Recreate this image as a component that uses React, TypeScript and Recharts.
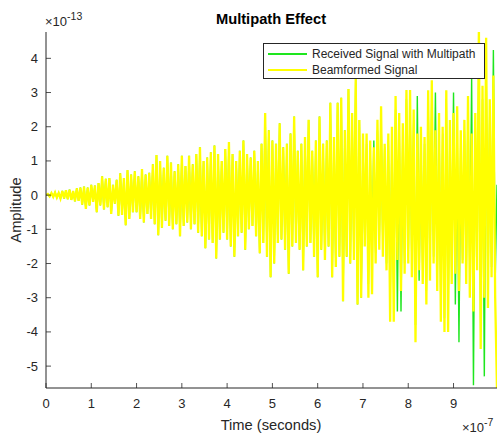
import React from 'react';
import { LineChart, Line, XAxis, YAxis, Legend } from 'recharts';

// time axis in units of 1e-7 s, amplitudes in units of 1e-13
const SAMPLE_STEP = 0.04;
const X_TICKS = [0, 1, 2, 3, 4, 5, 6, 7, 8, 9];
const Y_TICKS = [-5, -4, -3, -2, -1, 0, 1, 2, 3, 4];

const beamformed = [
  // 0.0 - 1.0
  0, 0.03, -0.04, 0.06, -0.05, 0.08, -0.07, 0.06, -0.1, 0.12, -0.1, 0.14, -0.12, 0.16, -0.14, 0.12, -0.18, 0.2, -0.17, 0.22, -0.28, 0.25, -0.4, 0.22, -0.3,
  // 1.0 - 2.0
  0.3, -0.2, 0.28, -0.5, 0.35, -0.3, 0.55, -0.42, 0.48, -0.35, 0.5, -0.55, 0.3, -0.25, 0.45, -0.6, 0.64, -0.58, 0.5, -0.88, 0.73, -0.7, 0.6, -0.5, 0.7,
  // 2.0 - 3.0
  -0.5, 0.55, -0.7, 0.76, -0.8, 0.6, -0.55, 0.65, -0.7, 0.9, -0.85, 1.17, -1.17, 1.0, -0.95, 0.8, -0.75, 1.15, -0.9, 0.95, -1.0, 0.7, -0.85, 0.9, -1.2,
  // 3.0 - 4.0
  1.15, -0.9, 0.85, -0.8, 1.15, -1.0, 0.9, -0.85, 1.2, -1.1, 1.4, -1.2, 1.0, -1.55, 1.1, -1.3, 1.25, -1.4, 1.45, -1.85, 1.2, -1.3, 1.0, -1.1, 1.35,
  // 4.0 - 5.0
  -1.3, 1.55, -1.5, 1.2, -1.8, 1.0, -1.2, 1.3, -1.1, 1.6, -1.6, 1.2, -1.0, 1.1, -0.9, 1.3, -1.2, 1.0, -1.7, 1.5, -1.4, 2.4, -1.8, 1.9, -2.4,
  // 5.0 - 6.0
  1.6, -2.0, 1.5, -1.4, 2.1, -1.3, 1.4, -1.6, 1.5, -2.3, 1.8, -1.5, 2.3, -1.4, 1.3, -1.6, 1.5, -2.2, 1.7, -1.5, 2.2, -1.4, 1.3, -1.8, 1.6,
  // 6.0 - 7.0
  -2.4, 2.3, -1.6, 1.5, -1.9, 1.6, -1.5, 2.7, -2.4, 1.7, -2.1, 2.7, -1.8, 2.85, -3.1, 1.9, -1.8, 3.1, -2.0, 2.4, -1.9, 3.4, -3.2, 2.2, -3.0,
  // 7.0 - 8.0
  1.8, -1.5, 1.8, -3.0, 1.6, -2.9, 1.4, -2.0, 2.2, -1.6, 2.6, -1.8, 1.5, -2.2, 1.8, -3.7, 2.0, -3.7, 2.9, -1.9, 2.4, -2.8, 2.1, -2.3, 3.07,
  // 8.0 - 9.0
  -2.0, 3.07, -2.4, 2.5, -4.3, 1.8, -2.2, 2.0, -2.6, 1.7, -3.2, 3.07, -2.5, 3.36, -2.0, 1.9, -2.8, 2.4, -3.7, 2.0, -4.0, 3.07, -4.0, 2.2, -2.6,
  // 9.0 - 10.0
  2.4, -2.3, 2.6, -2.8, 1.9, -2.0, 2.2, -2.6, 2.9, -3.0, 1.8, -3.4, 2.4, -2.2, 4.9, -4.5, 3.2, -3.0, 4.6, -3.3, 2.8, -2.4, 3.5, -3.0, -5.7,
];

// received signal matches the beamformed one up to 7e-7, then departs from it
const RECEIVED_SPLIT = 175;
const receivedTail = [
  // 7.0 - 8.0
  1.5, -1.3, 1.5, -2.6, 1.3, -1.9, 1.6, -1.7, 1.9, -1.4, 2.3, -1.6, 1.4, -2.0, 1.6, -3.2, 1.7, -3.0, 2.5, -3.4, 2.1, -3.4, 1.8, -2.0, 2.8,
  // 8.0 - 9.0
  -1.8, 2.7, -2.1, 2.2, -3.8, 2.9, -2.5, 1.8, -2.3, 1.5, -2.8, 2.7, -2.2, 3.0, -1.8, 3.0, -2.4, 2.1, -3.3, 1.8, -3.6, 2.8, -3.5, 2.0, -2.3,
  // 9.0 - 10.0
  3.0, -3.2, 2.0, -4.3, 1.7, -1.9, 1.9, -2.4, 2.6, -2.3, 3.45, -5.56, 2.1, -2.0, 4.3, -4.0, 2.8, -5.3, 3.9, -2.9, 2.5, -2.1, 4.24, -2.5, 0.3,
];
const received = beamformed.slice(0, RECEIVED_SPLIT).concat(receivedTail);

const data = beamformed.map((b, i) => ({ t: i * SAMPLE_STEP, received: received[i], beamformed: b }));

const LEGEND_ORDER = ['Received Signal with Multipath', 'Beamformed Signal'];

const AXIS = '#262626';
const FONT = '"Liberation Sans", Arial, Helvetica, sans-serif';
const GREEN = '#1ee61e';
const YELLOW = '#ffff00';

const LeftTick = ({ x, y, payload }: any) => (
  <g>
    <line x1={x} y1={y} x2={x + 5} y2={y} stroke={AXIS} strokeWidth={0.8} />
    <text x={x - 8} y={y + 4.5} textAnchor="end" fontSize={13} fill={AXIS} fontFamily={FONT}>{payload.value}</text>
  </g>
);
const RightTick = ({ x, y }: any) => <line x1={x - 5} y1={y} x2={x} y2={y} stroke={AXIS} strokeWidth={0.8} />;
const BottomTick = ({ x, y, payload }: any) => (
  <g>
    <line x1={x} y1={y} x2={x} y2={y - 5} stroke={AXIS} strokeWidth={0.8} />
    <text x={x} y={y + 20} textAnchor="middle" fontSize={13} fill={AXIS} fontFamily={FONT}>{payload.value}</text>
  </g>
);
const TopTick = ({ x, y }: any) => <line x1={x} y1={y} x2={x} y2={y + 5} stroke={AXIS} strokeWidth={0.8} />;

const LegendBox = ({ payload }: any) => {
  const items = [...(payload || [])].sort((a: any, b: any) => LEGEND_ORDER.indexOf(a.value) - LEGEND_ORDER.indexOf(b.value));
  return (
    <div style={{ background: '#fff', border: `1px solid ${AXIS}`, width: 222, height: 36, boxSizing: 'border-box', padding: '2px 0 0 4px', fontFamily: FONT, fontSize: 12, color: AXIS }}>
      {items.map((p: any) => (
        <div key={p.value} style={{ display: 'flex', alignItems: 'center', height: 16 }}>
          <span style={{ display: 'inline-block', width: 39, height: 2, background: p.color, marginRight: 5 }} />
          <span>{p.value}</span>
        </div>
      ))}
    </div>
  );
};

export default function App() {
  return (
    <div style={{ position: 'absolute', left: 0, top: 0, width: 498, height: 435, background: '#fff' }}>
      <LineChart width={498} height={435} data={data} margin={{ top: 32, right: 1, bottom: 0, left: 0 }}>
        <XAxis dataKey="t" type="number" domain={[0, 9.96]} ticks={X_TICKS} height={47} tickSize={0} tickMargin={0}
          stroke={AXIS} tick={<BottomTick />} interval={0} allowDataOverflow />
        <XAxis xAxisId="top" dataKey="t" type="number" orientation="top" domain={[0, 9.96]} ticks={X_TICKS} height={0}
          tickSize={0} tickMargin={0} stroke={AXIS} tick={<TopTick />} interval={0} allowDataOverflow />
        <YAxis type="number" domain={[-5.64, 4.77]} ticks={Y_TICKS} width={46} tickSize={0} tickMargin={0}
          stroke={AXIS} tick={<LeftTick />} interval={0} allowDataOverflow />
        <YAxis yAxisId="right" type="number" orientation="right" domain={[-5.64, 4.77]} ticks={Y_TICKS} width={0}
          tickSize={0} tickMargin={0} stroke={AXIS} tick={<RightTick />} interval={0} allowDataOverflow />
        <Legend layout="vertical" align="center" verticalAlign="middle" content={<LegendBox />}
          wrapperStyle={{ position: 'absolute', left: 263, top: 43, width: 222, height: 36 }} />
        <Line name="Received Signal with Multipath" dataKey="received" stroke={GREEN} strokeWidth={1.4} type="linear" dot={false} activeDot={false} isAnimationActive={false} />
        <Line name="Beamformed Signal" dataKey="beamformed" stroke={YELLOW} strokeWidth={2.3} type="linear" dot={false} activeDot={false} isAnimationActive={false} />
      </LineChart>
      <svg width={498} height={435} style={{ position: 'absolute', left: 0, top: 0, pointerEvents: 'none' }} fontFamily={FONT} fill={AXIS}>
        <text x={271} y={24} textAnchor="middle" fontSize={14.7} fontWeight="bold" fill="#000">Multipath Effect</text>
        <text x={45} y={26} fontSize={13}>×10<tspan dy={-6} fontSize={10.5}>-13</tspan></text>
        <text x={462} y={432} fontSize={13}>×10<tspan dy={-6} fontSize={10.5}>-7</tspan></text>
        <text x={271} y={430} textAnchor="middle" fontSize={14.7}>Time (seconds)</text>
        <text x={21} y={210} textAnchor="middle" fontSize={14.7} transform="rotate(-90 21 210)">Amplitude</text>
      </svg>
    </div>
  );
}
